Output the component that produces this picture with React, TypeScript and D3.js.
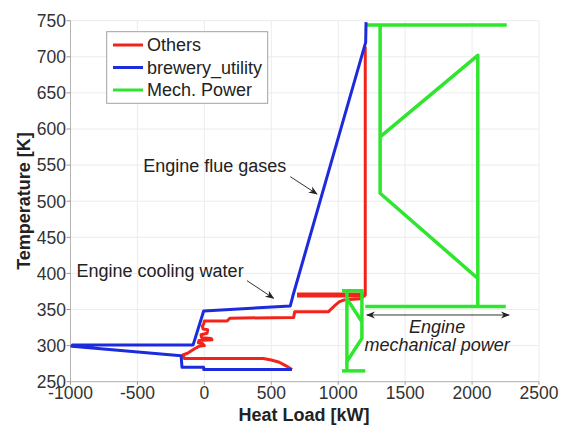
import React from "react";
import * as d3 from "d3";

const xTicks = [-1000, -500, 0, 500, 1000, 1500, 2000, 2500];
const yTicks = [250, 300, 350, 400, 450, 500, 550, 600, 650, 700, 750];

// [heat load kW, temperature K]
const others: [number, number][] = [
  [655, 267], [610, 272], [560, 277], [500, 280], [440, 282], [368, 282],
  [-150, 282], [-160, 287], [-120, 290], [-70, 296], [-40, 299], [0, 300],
  [-15, 303], [-45, 304], [-40, 307], [57, 308], [50, 310], [-20, 311],
  [-25, 315], [20, 317], [25, 322], [-10, 323], [-15, 327], [-5, 330],
  [0, 334], [170, 334], [190, 338], [667, 339], [675, 347], [928, 347],
  [955, 352], [978, 356], [1010, 361], [1040, 363], [1164, 365],
  [1202, 370], [1202, 714],
];
const othersBand: [number, number][] = [[692, 370], [1202, 370]];

const brewery: [number, number][] = [
  [655, 267], [-5, 267], [-5, 270], [-167, 270], [-174, 286], [-990, 299],
  [-985, 301], [-84, 301], [-5, 348], [642, 355], [660, 368], [1205, 720],
  [1208, 748],
];

const mechPower: [number, number][][] = [
  [[1202, 744], [2259, 744]],
  [[1313, 744], [1313, 511], [2043, 393]],
  [[1313, 589], [2043, 702], [2043, 354]],
  [[1202, 354], [2252, 354]],
  [[1028, 376], [1189, 376]],
  [[1065, 376], [1065, 265]],
  [[1028, 265], [1202, 265]],
  [[1177, 376], [1177, 310], [1065, 278]],
  [[1065, 365], [1177, 333]],
];

const legendItems = [
  { label: "Others", color: "#f2231a" },
  { label: "brewery_utility", color: "#1c2bdc" },
  { label: "Mech. Power", color: "#2ee62e" },
];

const W = 565;
const H = 426;
const font = "'Liberation Sans', Arial, sans-serif";

export default function App() {
  const x = d3.scaleLinear().domain([-1000, 2500]).range([70.5, 539]);
  const y = d3.scaleLinear().domain([250, 750]).range([381.7, 20.7]);
  const line = d3
    .line<[number, number]>()
    .x((d) => x(d[0]))
    .y((d) => y(d[1]));

  const [xMin, xMax] = x.range();
  const [yMax, yMin] = y.range();

  return (
    <svg
      width={W}
      height={H}
      style={{ position: "absolute", left: 0, top: 0, background: "#fff" }}
      fontFamily={font}
    >
      <defs>
        <marker id="ah" viewBox="0 0 10 10" refX="9" refY="5" markerWidth="9" markerHeight="9" orient="auto-start-reverse" markerUnits="userSpaceOnUse">
          <path d="M0,1 L10,5 L0,9 L3,5 Z" fill="#222" />
        </marker>
      </defs>

      {/* grid */}
      {xTicks.map((t) => (
        <line key={"gx" + t} x1={x(t)} x2={x(t)} y1={yMin} y2={yMax} stroke="#ececec" />
      ))}
      {yTicks.map((t) => (
        <line key={"gy" + t} x1={xMin} x2={xMax} y1={y(t)} y2={y(t)} stroke="#ececec" />
      ))}

      {/* axes */}
      <line x1={xMin} x2={xMin} y1={yMin} y2={yMax} stroke="#b4b4b4" />
      <line x1={xMin} x2={xMax} y1={yMax} y2={yMax} stroke="#b4b4b4" />
      {yTicks.map((t) => (
        <g key={"ty" + t}>
          <line x1={xMin - 4} x2={xMin} y1={y(t)} y2={y(t)} stroke="#999" />
          <text x={66} y={y(t)} dy="0.36em" textAnchor="end" fontSize={17.5} fill="#333">
            {t}
          </text>
        </g>
      ))}
      {xTicks.map((t) => (
        <g key={"tx" + t}>
          <line x1={x(t)} x2={x(t)} y1={yMax} y2={yMax + 3} stroke="#999" />
          <text x={x(t)} y={399} textAnchor="middle" fontSize={17.5} fill="#333">
            {t}
          </text>
        </g>
      ))}
      <text x={304} y={421} textAnchor="middle" fontSize={18} fontWeight="bold" fill="#222">
        Heat Load [kW]
      </text>
      <text transform="translate(30,201) rotate(-90)" textAnchor="middle" fontSize={18} fontWeight="bold" fill="#222">
        Temperature [K]
      </text>

      {/* series */}
      <path d={line(others) ?? ""} fill="none" stroke={legendItems[0].color} strokeWidth={3} strokeLinejoin="round" />
      <path d={line(othersBand) ?? ""} fill="none" stroke={legendItems[0].color} strokeWidth={5} />
      {mechPower.map((seg, i) => (
        <path key={"m" + i} d={line(seg) ?? ""} fill="none" stroke={legendItems[2].color} strokeWidth={3.5} strokeLinejoin="round" />
      ))}
      <path d={line(brewery) ?? ""} fill="none" stroke={legendItems[1].color} strokeWidth={3} strokeLinejoin="round" />

      {/* annotations */}
      <text x={x(-457)} y={y(540)} fontSize={18} fill="#222">Engine flue gases</text>
      <line x1={x(642)} y1={y(534)} x2={x(841)} y2={y(510)} stroke="#333" strokeWidth={1} markerEnd="url(#ah)" />
      <text x={x(-955)} y={y(395)} fontSize={18} fill="#222">Engine cooling water</text>
      <line x1={x(318)} y1={y(390)} x2={x(517)} y2={y(365.5)} stroke="#333" strokeWidth={1} markerEnd="url(#ah)" />
      <line x1={x(1214)} y1={y(342.4)} x2={x(2276)} y2={y(342.4)} stroke="#333" strokeWidth={1} markerStart="url(#ah)" markerEnd="url(#ah)" />
      <text x={x(1739)} y={y(317.5)} textAnchor="middle" fontSize={18} fontStyle="italic" fill="#222">Engine</text>
      <text x={x(1739)} y={y(292)} textAnchor="middle" fontSize={18} fontStyle="italic" fill="#222">mechanical power</text>

      {/* legend */}
      <rect x={106.7} y={31.7} width={161} height={71.6} fill="#fff" stroke="#a0a0a0" />
      {legendItems.map((d, i) => (
        <g key={d.label} transform={`translate(0,${45 + i * 22.5})`}>
          <line x1={113} x2={143} y1={0} y2={0} stroke={d.color} strokeWidth={3} />
          <text x={147} y={0} dy="0.36em" fontSize={18} fill="#222">
            {d.label}
          </text>
        </g>
      ))}
    </svg>
  );
}
